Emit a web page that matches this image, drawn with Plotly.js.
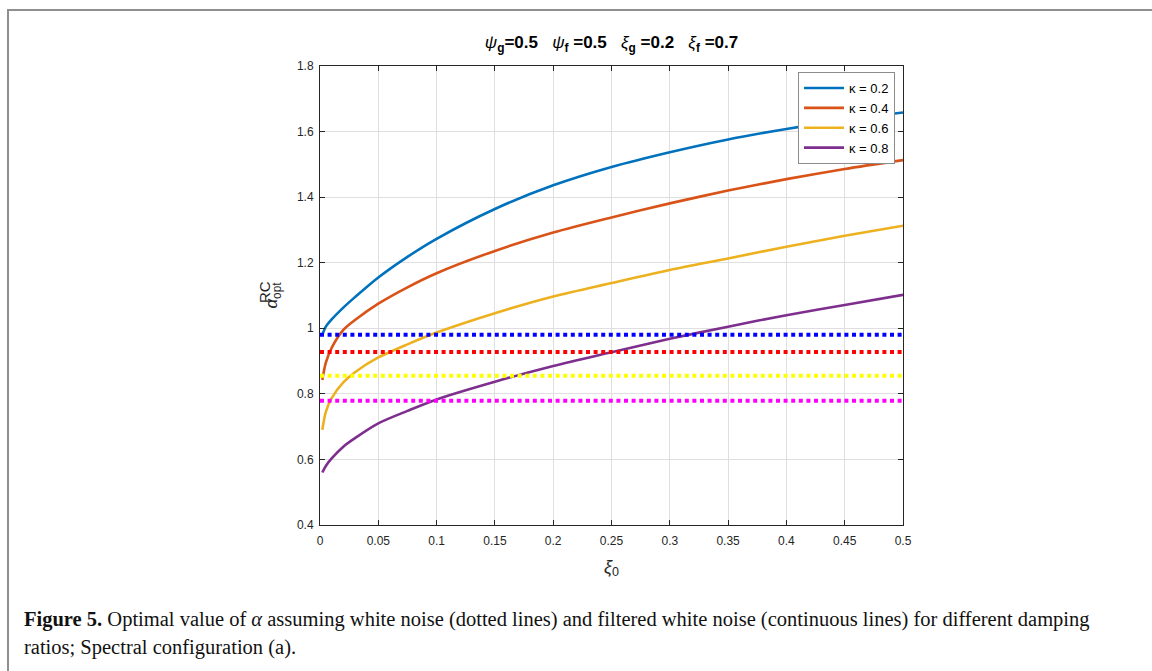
<!DOCTYPE html>
<html>
<head>
<meta charset="utf-8">
<script src="https://cdn.plot.ly/plotly-3.0.1.min.js"></script>
<style>html,body{margin:0;padding:0;background:#fff;}#chart{width:1152px;height:671px;}</style>
</head>
<body>
<div id="chart"></div>
<script>
// ---- data ----
const xi0 = [0.002, 0.005, 0.01, 0.02, 0.03, 0.05, 0.075, 0.1, 0.15, 0.2, 0.25, 0.3, 0.35, 0.4, 0.45, 0.5];
const kappaLabels = ["κ = 0.2", "κ = 0.4", "κ = 0.6", "κ = 0.8"];
const alphaK02 = [0.98, 1.005, 1.027, 1.063, 1.095, 1.155, 1.218, 1.273, 1.364, 1.436, 1.492, 1.537, 1.576, 1.608, 1.635, 1.658];
const alphaK04 = [0.842, 0.895, 0.94, 0.995, 1.025, 1.075, 1.125, 1.168, 1.236, 1.292, 1.338, 1.381, 1.420, 1.455, 1.486, 1.513];
const alphaK06 = [0.69, 0.745, 0.787, 0.835, 0.866, 0.911, 0.951, 0.987, 1.046, 1.097, 1.138, 1.178, 1.213, 1.249, 1.282, 1.313];
const alphaK08 = [0.56, 0.58, 0.603, 0.639, 0.665, 0.71, 0.748, 0.783, 0.837, 0.885, 0.927, 0.968, 1.005, 1.040, 1.071, 1.102];
const whiteNoiseAlpha = [0.98, 0.928, 0.855, 0.779];
const xRange = [0, 0.5];
const xTicks = [0, 0.05, 0.1, 0.15, 0.2, 0.25, 0.3, 0.35, 0.4, 0.45, 0.5];
const xTickText = ["0", "0.05", "0.1", "0.15", "0.2", "0.25", "0.3", "0.35", "0.4", "0.45", "0.5"];
const yTicks = [0.4, 0.6, 0.8, 1.0, 1.2, 1.4, 1.6, 1.8];
const yTickText = ["0.4", "0.6", "0.8", "1", "1.2", "1.4", "1.6", "1.8"];

// ---- styles ----
const curveColors = ["#0072BD", "#D95319", "#EDB120", "#7E2F8E"];
const dotColors = ["#0000ff", "#ff0000", "#ffff00", "#ff00ff"];
const curves = [alphaK02, alphaK04, alphaK06, alphaK08];

const traces = [];
curves.forEach((ys, i) => {
  traces.push({
    x: xi0, y: ys, type: "scatter", mode: "lines", name: kappaLabels[i],
    line: {color: curveColors[i], width: 2.6, shape: "spline", smoothing: 0.8}
  });
});
whiteNoiseAlpha.forEach((v, i) => {
  traces.push({
    x: xRange, y: [v, v], type: "scatter", mode: "lines", showlegend: false,
    line: {color: dotColors[i], width: 4, dash: "4px,3.6px"}
  });
});

const F = "Liberation Sans, Arial, Helvetica, sans-serif";
const S = "\u00a0";
const layout = {
  width: 1152, height: 671,
  paper_bgcolor: "#ffffff", plot_bgcolor: "#ffffff",
  margin: {l: 320, r: 249, t: 66, b: 146},
  showlegend: true,
  title: {
    text: "<i>ψ</i><sub><b>g</b></sub><b>=0.5</b>" + S + S + S + "<i>ψ</i><sub><b>f</b></sub><b>" + S + "=0.5</b>" + S + S + S +
          "<i>ξ</i><sub><b>g</b></sub><b>" + S + "=0.2</b>" + S + S + S + "<i>ξ</i><sub><b>f</b></sub><b>" + S + "=0.7</b>",
    font: {family: F, size: 17, color: "#000"},
    x: 0.5, xref: "paper", xanchor: "center",
    y: 1 - 42/671, yref: "container", yanchor: "middle"
  },
  xaxis: {
    range: xRange, tickvals: xTicks, ticktext: xTickText,
    showgrid: true, gridcolor: "#dfdfdf", gridwidth: 1,
    zeroline: false, showline: true, linecolor: "#262626", linewidth: 1, mirror: "ticks",
    ticks: "inside", ticklen: 5, tickcolor: "#262626", ticklabelstandoff: 5,
    tickfont: {family: F, size: 12, color: "#262626"},
    title: {text: "<i>ξ</i><sub>0</sub>", font: {family: F, size: 18, color: "#262626"}, standoff: 12}
  },
  yaxis: {
    range: [0.4, 1.8], tickvals: yTicks, ticktext: yTickText,
    showgrid: true, gridcolor: "#dfdfdf", gridwidth: 1,
    zeroline: false, showline: true, linecolor: "#262626", linewidth: 1, mirror: "ticks",
    ticks: "inside", ticklen: 5, tickcolor: "#262626", ticklabelstandoff: 3,
    tickfont: {family: F, size: 12, color: "#262626"},
    title: {text: "<i>α</i><sub>opt</sub>", font: {family: F, size: 17, color: "#262626"}, standoff: 14}
  },
  legend: {
    x: (798-320)/583, y: (525-72)/459, xanchor: "left", yanchor: "top",
    bgcolor: "#ffffff", bordercolor: "#8c8c8c", borderwidth: 1,
    font: {family: F, size: 13, color: "#000"},
    tracegroupgap: 0, itemwidth: 40
  },
  shapes: [{
    type: "rect", xref: "paper", yref: "paper",
    x0: (8-320)/583, x1: (1170-320)/583, y0: (525-690)/459, y1: (525-10)/459,
    line: {color: "#8f8f8f", width: 2}, fillcolor: "rgba(0,0,0,0)", layer: "below"
  }],
  annotations: [
    {text: "RC", xref: "paper", yref: "paper", x: (264-320)/583, y: (525-292)/459,
     textangle: -90, showarrow: false, font: {family: F, size: 15, color: "#262626"},
     xanchor: "center", yanchor: "middle"},
    {text: "<b>Figure 5.</b> Optimal value of <i>α</i> assuming white noise (dotted lines) and filtered white noise (continuous lines) for different damping",
     xref: "paper", yref: "paper", x: (22-320)/583, y: (525-619)/459, xanchor: "left", yanchor: "middle",
     showarrow: false, align: "left", font: {family: "Liberation Serif, Times New Roman, serif", size: 20.5, color: "#111"}},
    {text: "ratios; Spectral configuration (a).",
     xref: "paper", yref: "paper", x: (22-320)/583, y: (525-647)/459, xanchor: "left", yanchor: "middle",
     showarrow: false, align: "left", font: {family: "Liberation Serif, Times New Roman, serif", size: 20.5, color: "#111"}}
  ]
};

Plotly.newPlot("chart", traces, layout, {displayModeBar: false, staticPlot: true});
</script>
</body>
</html>
